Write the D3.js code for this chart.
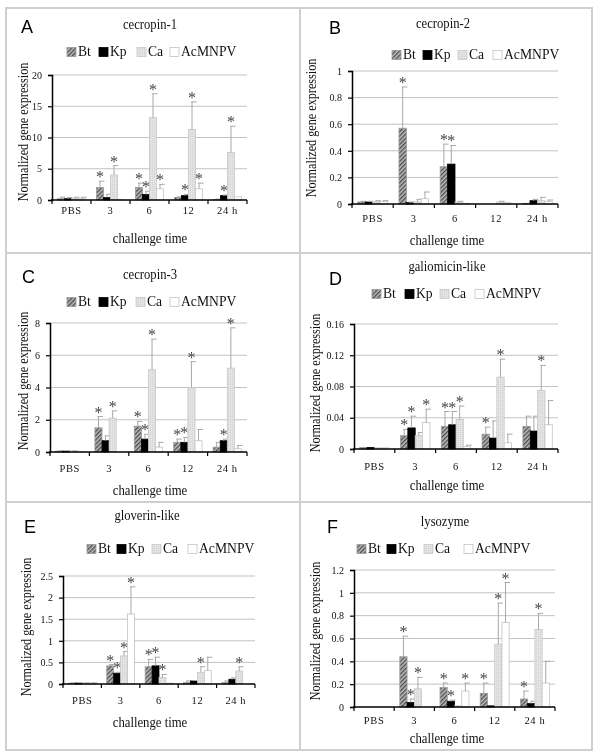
<!DOCTYPE html>
<html><head><meta charset="utf-8">
<script src="https://cdn.jsdelivr.net/npm/d3@7"></script>
<style>
body{margin:0;background:#fff}
#wrap{will-change:transform;width:600px;height:756px;background:#fff}
svg{display:block}
svg text{font-family:"Liberation Serif","Times New Roman","DejaVu Serif",serif}
svg text.sans{font-family:"Liberation Sans",Arial,"DejaVu Sans",sans-serif}
</style>
</head><body>
<div id="wrap"><svg id="chart" width="600" height="756"></svg></div>
<script>
const categories = ["PBS", "3", "6", "12", "24 h"];
const seriesNames = ["Bt", "Kp", "Ca", "AcMNPV"];

// A cecropin-1 : rows = Bt, Kp, Ca, AcMNPV ; columns = categories
const cec1Mean = [[0.2, 2.0, 2.0, 0.4, 0.1], [0.2, 0.4, 0.9, 0.7, 0.7], [0.2, 4.0, 13.2, 11.3, 7.6], [0.2, 0.05, 1.8, 1.8, 0.5]];
const cec1Sd   = [[0.25, 1.0, 0.7, 0.1, 0.05], [0.2, 0.5, 0.5, 0.2, 0.1], [0.25, 1.5, 3.8, 4.4, 4.2], [0.25, 0, 0.7, 0.9, 0]];
const cec1Star = [[0, 1, 1, 0, 0], [0, 0, 1, 1, 1], [0, 1, 1, 1, 1], [0, 0, 1, 1, 0]];
const cec1Ticks = [0, 5, 10, 15, 20];
const cec1TickLabels = ["0", "5", "10", "15", "20"];

// B cecropin-2
const cec2Mean = [[0.015, 0.57, 0.28, 0, 0.005], [0.015, 0.01, 0.30, 0, 0.025], [0.02, 0.015, 0.015, 0.015, 0.025], [0.02, 0.04, 0.005, 0.01, 0.02]];
const cec2Sd   = [[0.005, 0.31, 0.17, 0, 0], [0.005, 0.005, 0.14, 0, 0.01], [0.005, 0.02, 0.005, 0.005, 0.025], [0.005, 0.05, 0, 0, 0.01]];
const cec2Star = [[0, 1, 1, 0, 0], [0, 0, 1, 0, 0], [0, 0, 0, 0, 0], [0, 0, 0, 0, 0]];
const cec2Ticks = [0, 0.2, 0.4, 0.6, 0.8, 1];
const cec2TickLabels = ["0", "0.2", "0.4", "0.6", "0.8", "1"];

// C cecropin-3
const cec3Mean = [[0.05, 1.5, 1.6, 0.6, 0.3], [0.05, 0.7, 0.8, 0.6, 0.7], [0.05, 2.1, 5.1, 4.0, 5.2], [0.02, 0, 0.3, 0.7, 0.2]];
const cec3Sd   = [[0.02, 0.7, 0.3, 0.2, 0.3], [0.02, 0.3, 0.3, 0.3, 0.1], [0.02, 0.45, 1.9, 1.6, 2.5], [0, 0, 0.3, 0.7, 0.2]];
const cec3Star = [[0, 1, 1, 1, 0], [0, 0, 1, 1, 1], [0, 1, 1, 1, 1], [0, 0, 0, 0, 0]];
const cec3Ticks = [0, 2, 4, 6, 8];
const cec3TickLabels = ["0", "2", "4", "6", "8"];

// D galiomicin-like
const galMean = [[0.002, 0.017, 0.029, 0.019, 0.029], [0.002, 0.027, 0.031, 0.014, 0.023], [0.0015, 0.017, 0.038, 0.092, 0.075], [0.0015, 0.034, 0.003, 0.008, 0.031]];
const galSd   = [[0, 0.008, 0.019, 0.009, 0.013], [0, 0.015, 0.017, 0.022, 0.019], [0, 0.004, 0.017, 0.023, 0.032], [0, 0.017, 0.002, 0.011, 0.031]];
const galStar = [[0, 1, 1, 1, 0], [0, 1, 1, 0, 0], [0, 0, 1, 1, 1], [0, 1, 0, 0, 0]];
const galTicks = [0, 0.04, 0.08, 0.12, 0.16];
const galTickLabels = ["0", "0.04", "0.08", "0.12", "0.16"];

// E gloverin-like
const gloMean = [[0.02, 0.42, 0.40, 0.03, 0.03], [0.02, 0.25, 0.42, 0.07, 0.11], [0.02, 0.65, 0.15, 0.27, 0.30], [0.02, 1.62, 0.02, 0.31, 0.0]];
const gloSd   = [[0.005, 0.03, 0.17, 0.04, 0.04], [0.005, 0.02, 0.20, 0.01, 0.03], [0.005, 0.10, 0.07, 0.13, 0.10], [0.005, 0.63, 0, 0.31, 0]];
const gloStar = [[0, 1, 1, 0, 0], [0, 1, 1, 0, 0], [0, 1, 1, 1, 1], [0, 1, 0, 0, 0]];
const gloTicks = [0, 0.5, 1, 1.5, 2, 2.5];
const gloTickLabels = ["0", "0.5", "1", "1.5", "2", "2.5"];

// F lysozyme
const lysMean = [[0, 0.44, 0.17, 0.12, 0.07], [0, 0.04, 0.05, 0.01, 0.03], [0, 0.16, 0.01, 0.55, 0.68], [0, 0, 0.14, 0.74, 0.21]];
const lysSd   = [[0, 0.18, 0.04, 0.09, 0.07], [0, 0.03, 0.01, 0, 0.02], [0, 0.10, 0, 0.36, 0.14], [0, 0, 0.07, 0.35, 0.19]];
const lysStar = [[0, 1, 1, 1, 1], [0, 1, 1, 0, 0], [0, 1, 0, 1, 1], [0, 0, 1, 1, 0]];
const lysTicks = [0, 0.2, 0.4, 0.6, 0.8, 1, 1.2];
const lysTickLabels = ["0", "0.2", "0.4", "0.6", "0.8", "1", "1.2"];

const svg = d3.select("#chart");

// horizontally condensed text, like the original figure
function squeeze(sel, f) {
  sel.each(function () {
    const w = this.getComputedTextLength();
    if (w > 0) d3.select(this).attr("textLength", w * f).attr("lengthAdjust", "spacingAndGlyphs");
  });
  return sel;
}

// patterns
const defs = svg.append("defs");
const hatch = defs.append("pattern").attr("id", "hatch").attr("patternUnits", "userSpaceOnUse")
  .attr("width", 3).attr("height", 3).attr("patternTransform", "rotate(45)");
hatch.append("rect").attr("width", 3).attr("height", 3).attr("fill", "#bdbdbd");
hatch.append("rect").attr("width", 1.4).attr("height", 3).attr("fill", "#4e4e4e");
const dots = defs.append("pattern").attr("id", "dots").attr("patternUnits", "userSpaceOnUse")
  .attr("width", 2).attr("height", 2);
dots.append("rect").attr("width", 2).attr("height", 2).attr("fill", "#e4e4e4");
dots.append("rect").attr("width", 1).attr("height", 1).attr("fill", "#d2d2d2");

const fills = ["url(#hatch)", "#000", "url(#dots)", "#fff"];
const strokes = ["#9a9a9a", "#000", "#c8c8c8", "#c4c4c4"];

// panel frame
const frame = svg.append("g").attr("fill", "none").attr("stroke", "#cfcfcf").attr("stroke-width", 2);
frame.append("rect").attr("x", 6).attr("y", 8).attr("width", 586).attr("height", 742);
frame.append("line").attr("x1", 300).attr("x2", 300).attr("y1", 8).attr("y2", 750);
frame.append("line").attr("x1", 6).attr("x2", 592).attr("y1", 253).attr("y2", 253);
frame.append("line").attr("x1", 6).attr("x2", 592).attr("y1", 502).attr("y2", 502);

function drawPanel(p, mean, sd, star, ticks, tickLabels) {
  const g = svg.append("g");
  const x = d3.scaleBand().domain(categories).range([p.x0, p.x1]).padding(0);
  const bw = x.bandwidth();
  const xs = d3.scaleBand().domain(seriesNames).range([bw * 0.14, bw * 0.86]).padding(0);
  const y = d3.scaleLinear().domain([0, ticks[ticks.length - 1]]).range([p.y0, p.yTop]);

  // grid
  g.append("g").selectAll("line").data(ticks.slice(1)).join("line")
    .attr("x1", p.x0).attr("x2", p.x1).attr("y1", d => y(d)).attr("y2", d => y(d))
    .attr("stroke", "#c2c2c2").attr("stroke-width", 1);

  // bars
  seriesNames.forEach((s, si) => {
    const sg = g.append("g");
    sg.selectAll("rect").data(categories).join("rect")
      .attr("x", c => x(c) + xs(s))
      .attr("y", (c, ci) => y(mean[si][ci]))
      .attr("width", xs.bandwidth())
      .attr("height", (c, ci) => p.y0 - y(mean[si][ci]))
      .attr("fill", fills[si]).attr("stroke", strokes[si]).attr("stroke-width", 0.8);
    // error bars
    const eb = sg.append("g").attr("stroke", "#a8a8a8").attr("stroke-width", 1);
    categories.forEach((c, ci) => {
      if (sd[si][ci] <= 0) return;
      const cx = x(c) + xs(s) + xs.bandwidth() / 2;
      const top = y(mean[si][ci] + sd[si][ci]);
      eb.append("line").attr("x1", cx).attr("x2", cx).attr("y1", y(mean[si][ci])).attr("y2", top);
      eb.append("line").attr("x1", cx - 1).attr("x2", cx + xs.bandwidth() / 2 + 1).attr("y1", top).attr("y2", top);
    });
    // significance stars
    categories.forEach((c, ci) => {
      if (!star[si][ci]) return;
      const cx = x(c) + xs(s) + xs.bandwidth() / 2;
      const top = y(mean[si][ci] + sd[si][ci]);
      g.append("text").attr("x", cx).attr("y", top + 1).attr("text-anchor", "middle")
        .attr("font-size", 16).attr("fill", "#454545").text("*");
    });
  });

  // y axis
  const ya = g.append("g").attr("transform", `translate(${p.x0},0)`)
    .call(d3.axisLeft(y).tickValues(ticks).tickSize(4).tickPadding(6).tickFormat((d, i) => tickLabels[i]));
  ya.attr("font-family", null);
  ya.select(".domain").attr("stroke", "#000").attr("stroke-width", 1.5);
  ya.selectAll(".tick line").attr("stroke", "#000").attr("stroke-width", 1.2);
  ya.selectAll("text").attr("font-size", 10).attr("fill", "#111");

  // x axis
  g.append("line").attr("x1", p.x0 - 1).attr("x2", p.x1).attr("y1", p.y0).attr("y2", p.y0)
    .attr("stroke", "#000").attr("stroke-width", 1.5);
  const bounds = categories.map(c => x(c)).concat([p.x1]);
  g.append("g").selectAll("line").data(bounds).join("line")
    .attr("x1", d => d).attr("x2", d => d).attr("y1", p.y0).attr("y2", p.y0 + 4)
    .attr("stroke", "#000").attr("stroke-width", 1.2);
  g.append("g").selectAll("text").data(categories).join("text")
    .attr("x", c => x(c) + bw / 2).attr("y", p.catY).attr("text-anchor", "middle")
    .attr("dominant-baseline", "middle").attr("letter-spacing", 0.6)
    .attr("font-size", 10.5).attr("fill", "#111").text(c => c);

  // titles
  squeeze(g.append("text").attr("x", p.xtX).attr("y", p.xtY).attr("text-anchor", "middle").attr("dominant-baseline", "middle")
    .attr("font-size", 15.5).attr("fill", "#111").text("challenge time"), 0.82);
  squeeze(g.append("text").attr("transform", `translate(${p.ytX},${p.ytY}) rotate(-90)`).attr("text-anchor", "middle")
    .attr("dominant-baseline", "middle").attr("font-size", 14).attr("fill", "#111")
    .text("Normalized gene expression"), 0.87);
  squeeze(g.append("text").attr("x", p.titleX).attr("y", p.titleY).attr("text-anchor", "middle").attr("dominant-baseline", "middle")
    .attr("font-size", 14.5).attr("fill", "#111").text(p.title), 0.87);
  g.append("text").attr("class", "sans").attr("x", p.letterX).attr("y", p.letterY).attr("font-size", 18)
    .attr("fill", "#000").text(p.letter);

  // legend
  const lg = g.append("g");
  seriesNames.forEach((s, si) => {
    const lx = p.legX[si];
    lg.append("rect").attr("x", lx).attr("y", p.legY - 4.5).attr("width", 9).attr("height", 9)
      .attr("fill", fills[si]).attr("stroke", strokes[si]).attr("stroke-width", 0.8);
    squeeze(lg.append("text").attr("x", lx + 11).attr("y", p.legY + 0.5).attr("dominant-baseline", "middle")
      .attr("font-size", 15.5).attr("fill", "#111").text(s), 0.88);
  });
}

drawPanel({letter: "A", title: "cecropin-1", x0: 52, x1: 247, yTop: 75, y0: 200, catY: 212, xtX: 150, xtY: 239,
  ytX: 25, ytY: 132, titleX: 150, titleY: 26, letterX: 21, letterY: 33, legY: 52, legX: [67, 99, 137, 170]},
  cec1Mean, cec1Sd, cec1Star, cec1Ticks, cec1TickLabels);
drawPanel({letter: "B", title: "cecropin-2", x0: 352, x1: 558, yTop: 71, y0: 204, catY: 220, xtX: 447, xtY: 241,
  ytX: 313, ytY: 128, titleX: 443, titleY: 25, letterX: 329, letterY: 34, legY: 55, legX: [392, 423, 458, 493]},
  cec2Mean, cec2Sd, cec2Star, cec2Ticks, cec2TickLabels);
drawPanel({letter: "C", title: "cecropin-3", x0: 50, x1: 247, yTop: 323, y0: 452, catY: 470, xtX: 150, xtY: 491,
  ytX: 25, ytY: 381, titleX: 150, titleY: 276, letterX: 22, letterY: 283, legY: 302, legX: [67, 99, 136, 170]},
  cec3Mean, cec3Sd, cec3Star, cec3Ticks, cec3TickLabels);
drawPanel({letter: "D", title: "galiomicin-like", x0: 354, x1: 558, yTop: 324, y0: 449, catY: 468, xtX: 447, xtY: 486,
  ytX: 317, ytY: 383, titleX: 447, titleY: 268, letterX: 329, letterY: 285, legY: 294, legX: [372, 405, 440, 475]},
  galMean, galSd, galStar, galTicks, galTickLabels);
drawPanel({letter: "E", title: "gloverin-like", x0: 63, x1: 255, yTop: 576, y0: 684, catY: 702, xtX: 150, xtY: 723,
  ytX: 28, ytY: 627, titleX: 147, titleY: 517, letterX: 24, letterY: 533, legY: 549, legX: [87, 117, 152, 188]},
  gloMean, gloSd, gloStar, gloTicks, gloTickLabels);
drawPanel({letter: "F", title: "lysozyme", x0: 354, x1: 555, yTop: 570, y0: 707, catY: 722, xtX: 447, xtY: 739,
  ytX: 317, ytY: 631, titleX: 445, titleY: 523, letterX: 327, letterY: 533, legY: 549, legX: [357, 387, 424, 464]},
  lysMean, lysSd, lysStar, lysTicks, lysTickLabels);
</script>
</body></html>
